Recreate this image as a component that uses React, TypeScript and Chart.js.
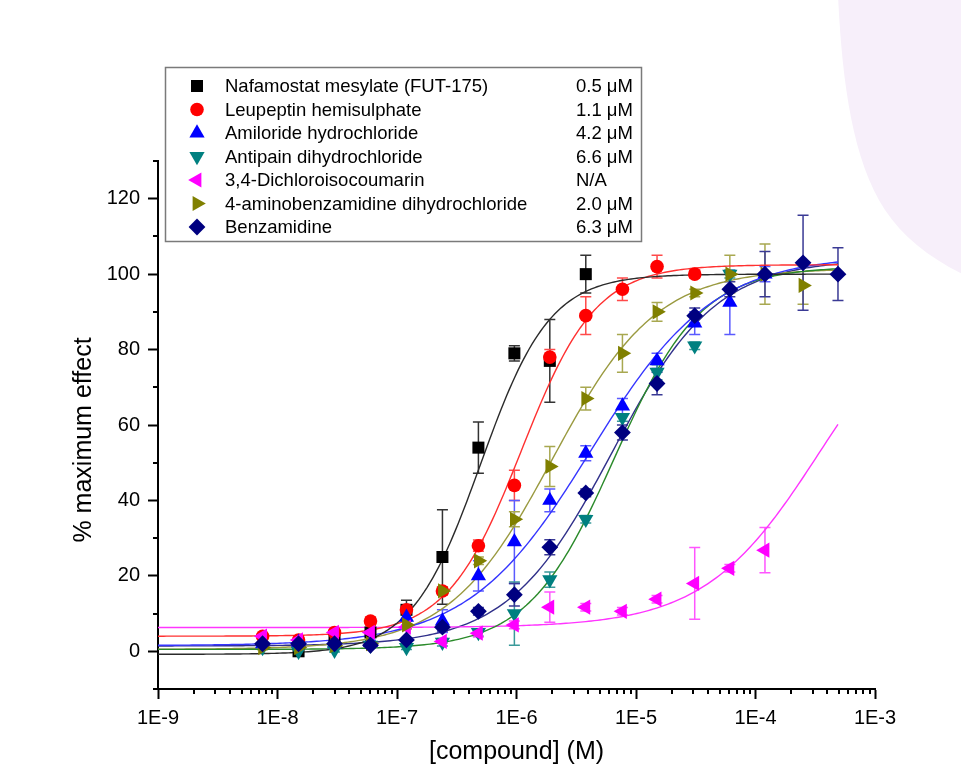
import React, { useEffect, useRef } from "react";
import { Chart, registerables } from "chart.js";

Chart.register(...registerables);

const FONT = '"Liberation Sans", Arial, Helvetica, sans-serif';

// concentrations (M)
const concentrations = [
  7.5e-9, 1.5e-8, 3e-8, 6e-8, 1.2e-7, 2.4e-7, 4.8e-7, 9.6e-7, 1.9e-6, 3.8e-6,
  7.7e-6, 1.5e-5, 3.1e-5, 6.1e-5, 1.2e-4, 2.5e-4, 4.9e-4,
];

const seriesNames = [
  "Nafamostat mesylate (FUT-175)",
  "Leupeptin hemisulphate",
  "Amiloride hydrochloride",
  "Antipain dihydrochloride",
  "3,4-Dichloroisocoumarin",
  "4-aminobenzamidine dihydrochloride",
  "Benzamidine",
];
const ec50Labels = ["0.5 μM", "1.1 μM", "4.2 μM", "6.6 μM", "N/A", "2.0 μM", "6.3 μM"];

// % maximum effect (mean) and error (±)
const nafamostat = [null, 0, 3, 5, 11, 25, 54, 79, 77, 100, null, null, null, null, null, null, null];
const nafamostatErr = [0, 0.5, 0.5, 1, 2.5, 12.5, 6.8, 2, 11, 5, 0, 0, 0, 0, 0, 0, 0];

const leupeptin = [4, 3, 5, 8, 11, 16, 28, 44, 78, 89, 96, 102, 100, null, null, null, null];
const leupeptinErr = [0.5, 0.5, 0.5, 1, 1, 1, 1.5, 4, 2, 5, 3, 3, 1, 0, 0, 0, 0];

const amiloride = [2, 2.4, 2, 2.4, 9, 8, 20, 29, 40, 52.5, 65, 77, 87, 92.5, 100, null, null];
const amilorideErr = [0.5, 0.5, 0.5, 0.5, 2, 3, 4, 11, 3, 2, 2, 2, 3, 8.5, 2, 0, 0];

const antipain = [1, 0, 0.3, 1.6, 1, 2.4, 5, 10, 19, 35, 62, 74, 81, 100, null, null, null];
const antipainErr = [0.5, 0.5, 0.5, 0.5, 0.5, 1, 1, 8.4, 2, 1, 1, 2, 1, 1, 0, 0, 0];

const dichloroisocoumarin = [4, 3, 5, 5, 6.4, 2.6, 4.8, 7, 11.7, 11.7, 10.6, 13.8, 18, 22, 26.8, null, null];
const dichloroisocoumarinErr = [0.5, 0.5, 0.5, 0.5, 0.5, 0.5, 1, 1, 4, 1, 1, 1, 9.5, 1, 6, 0, 0];

const aminobenzamidine = [1, 1, 1.5, 2, 7, 16, 24, 35, 49, 67, 79, 90, 95, 100, 100, 97, null];
const aminobenzamidineErr = [0.5, 0.5, 0.5, 0.5, 1, 1, 1, 2, 5.3, 3, 5, 2.5, 1, 5, 8, 5, 0];

const benzamidine = [2, 2, 2, 1.6, 3, 6.4, 10.6, 15, 27.6, 42, 58, 71, 89, 96, 100, 103, 100];
const benzamidineErr = [0.5, 0.5, 0.5, 0.5, 0.5, 1, 1, 3, 2, 1, 2, 3, 2, 2, 6, 12.6, 7];

const seriesValues = [nafamostat, leupeptin, amiloride, antipain, dichloroisocoumarin, aminobenzamidine, benzamidine];
const seriesErrors = [nafamostatErr, leupeptinErr, amilorideErr, antipainErr, dichloroisocoumarinErr, aminobenzamidineErr, benzamidineErr];

// four-parameter logistic fit parameters
const fitBottoms = [-0.8, 4, 1.5, 0.5, 6.3, 0.5, 1.4];
const fitTops = [100, 102.5, 105, 102, 100, 101.5, 104];
const fitEc50s = [0.5e-6, 1.1e-6, 4.2e-6, 6.6e-6, 3.5e-4, 2.0e-6, 6.3e-6];
const fitHills = [1.5, 1.4, 0.85, 1.2, 0.9, 1.0, 1.0];
const fitRange = [1e-9, 4.9e-4];

const markerColors = ["#000000", "#ff0000", "#0000ff", "#008080", "#ff00ff", "#808000", "#000080"];
const curveColors = ["#2b2b2b", "#ff3030", "#3535ff", "#2a8a2a", "#ff35ff", "#9a9a40", "#30308a"];
const errorColors = ["#333333", "#ff4a4a", "#5a5aff", "#3a9a9a", "#ff55ff", "#a8a850", "#3a3a95"];
const pointStyles = ["rect", "circle", "triangle", "triangle", "triangle", "triangle", "rectRot"];
const pointRotations = [0, 0, 0, 180, -90, 90, 0];
const pointRadii = [8.5, 6.8, 8.8, 8.8, 8.8, 8.8, 8.4];

const yTickValues = [0, 20, 40, 60, 80, 100, 120];
const yMinorTickValues = [-10, 10, 30, 50, 70, 90, 110, 130];
const xTickValues = [1e-9, 1e-8, 1e-7, 1e-6, 1e-5, 1e-4, 1e-3];
const xTickLabels = ["1E-9", "1E-8", "1E-7", "1E-6", "1E-5", "1E-4", "1E-3"];
const xMinorMultipliers = [2, 3, 4, 5, 6, 7, 8, 9];

const xTitle = "[compound] (M)";
const yTitle = "% maximum effect";

function logistic(i: number, x: number) {
  return fitBottoms[i] + (fitTops[i] - fitBottoms[i]) / (1 + Math.pow(fitEc50s[i] / x, fitHills[i]));
}

function curvePoints(i: number) {
  const pts: { x: number; y: number }[] = [];
  const a = Math.log10(fitRange[0]);
  const b = Math.log10(fitRange[1]);
  const n = 240;
  for (let k = 0; k <= n; k++) {
    const x = Math.pow(10, a + ((b - a) * k) / n);
    pts.push({ x, y: logistic(i, x) });
  }
  return pts;
}

function drawMarker(ctx: CanvasRenderingContext2D, style: string, rot: number, r: number, x: number, y: number, color: string) {
  ctx.save();
  ctx.translate(x, y);
  ctx.rotate((rot * Math.PI) / 180);
  ctx.fillStyle = color;
  ctx.beginPath();
  if (style === "rect") {
    const s = Math.SQRT1_2 * r;
    ctx.rect(-s, -s, 2 * s, 2 * s);
  } else if (style === "circle") {
    ctx.arc(0, 0, r, 0, Math.PI * 2);
  } else if (style === "triangle") {
    for (let k = 0; k < 3; k++) {
      const a = (k * 2 * Math.PI) / 3;
      const px = Math.sin(a) * r;
      const py = -Math.cos(a) * r;
      if (k === 0) ctx.moveTo(px, py);
      else ctx.lineTo(px, py);
    }
    ctx.closePath();
  } else if (style === "rectRot") {
    ctx.moveTo(0, -r);
    ctx.lineTo(r, 0);
    ctx.lineTo(0, r);
    ctx.lineTo(-r, 0);
    ctx.closePath();
  }
  ctx.fill();
  ctx.restore();
}

const backgroundPlugin = {
  id: "bgShape",
  beforeDraw(chart: any) {
    const ctx = chart.ctx;
    ctx.save();
    ctx.fillStyle = "#f7effa";
    ctx.beginPath();
    ctx.moveTo(838, -5);
    ctx.bezierCurveTo(842, 80, 852, 160, 885, 210);
    ctx.bezierCurveTo(905, 240, 935, 262, 975, 280);
    ctx.lineTo(975, -5);
    ctx.closePath();
    ctx.fill();
    ctx.restore();
  },
};

const errorBarPlugin = {
  id: "errorBars",
  beforeDatasetsDraw(chart: any) {
    const ctx = chart.ctx;
    const xs = chart.scales.x;
    const ys = chart.scales.y;
    ctx.save();
    ctx.lineWidth = 1.5;
    for (let s = 0; s < seriesValues.length; s++) {
      ctx.strokeStyle = errorColors[s];
      const vals = seriesValues[s];
      const errs = seriesErrors[s];
      for (let k = 0; k < concentrations.length; k++) {
        const v = vals[k];
        if (v === null || v === undefined) continue;
        const e = errs[k];
        if (!e) continue;
        const px = xs.getPixelForValue(concentrations[k]);
        const top = ys.getPixelForValue(v + e);
        const bot = ys.getPixelForValue(v - e);
        ctx.beginPath();
        ctx.moveTo(px, top);
        ctx.lineTo(px, bot);
        ctx.moveTo(px - 5.5, top);
        ctx.lineTo(px + 5.5, top);
        ctx.moveTo(px - 5.5, bot);
        ctx.lineTo(px + 5.5, bot);
        ctx.stroke();
      }
    }
    ctx.restore();
  },
};

const decorPlugin = {
  id: "decor",
  afterDraw(chart: any) {
    const ctx = chart.ctx;
    const xs = chart.scales.x;
    const ys = chart.scales.y;
    const area = chart.chartArea;
    ctx.save();
    // minor ticks
    ctx.strokeStyle = "#000";
    ctx.lineWidth = 2;
    ctx.beginPath();
    for (const v of yMinorTickValues) {
      const py = Math.round(ys.getPixelForValue(v));
      ctx.moveTo(area.left, py);
      ctx.lineTo(area.left - 5, py);
    }
    for (let d = 0; d < xTickValues.length - 1; d++) {
      for (const m of xMinorMultipliers) {
        const px = Math.round(xs.getPixelForValue(xTickValues[d] * m));
        ctx.moveTo(px, area.bottom);
        ctx.lineTo(px, area.bottom + 5);
      }
    }
    ctx.stroke();

    // axis titles
    ctx.fillStyle = "#000";
    ctx.font = `25px ${FONT}`;
    ctx.textAlign = "center";
    ctx.textBaseline = "middle";
    ctx.fillText(xTitle, (area.left + area.right) / 2, 752);
    ctx.save();
    ctx.translate(84, 440);
    ctx.rotate(-Math.PI / 2);
    ctx.fillText(yTitle, 0, 0);
    ctx.restore();

    // legend box
    const bx = 165.5, by = 67.5, bw = 476, bh = 174;
    ctx.fillStyle = "#fff";
    ctx.fillRect(bx, by, bw, bh);
    ctx.strokeStyle = "#7a7a7a";
    ctx.lineWidth = 1.5;
    ctx.strokeRect(bx, by, bw, bh);
    ctx.font = `18.5px ${FONT}`;
    ctx.textAlign = "left";
    ctx.textBaseline = "middle";
    for (let i = 0; i < seriesNames.length; i++) {
      const ry = 86 + i * 23.5;
      drawMarker(ctx, pointStyles[i], pointRotations[i], pointRadii[i], 197, ry, markerColors[i]);
      ctx.fillStyle = "#000";
      ctx.fillText(seriesNames[i], 225, ry + 1);
      ctx.fillText(ec50Labels[i], 576, ry + 1);
    }
    ctx.restore();
  },
};

export default function App() {
  const canvasRef = useRef<HTMLCanvasElement | null>(null);

  useEffect(() => {
    if (!canvasRef.current) return;
    const datasets: any[] = [];
    for (let i = 0; i < seriesNames.length; i++) {
      datasets.push({
        type: "line",
        label: seriesNames[i] + " fit",
        data: curvePoints(i),
        borderColor: curveColors[i],
        borderWidth: 1.4,
        pointRadius: 0,
        showLine: true,
        fill: false,
        tension: 0,
        order: 20 + i,
      });
    }
    for (let i = 0; i < seriesNames.length; i++) {
      const pts: { x: number; y: number }[] = [];
      seriesValues[i].forEach((v, k) => {
        if (v !== null && v !== undefined) pts.push({ x: concentrations[k], y: v as number });
      });
      datasets.push({
        type: "scatter",
        label: seriesNames[i],
        data: pts,
        showLine: false,
        pointStyle: pointStyles[i],
        pointRotation: pointRotations[i],
        pointRadius: pointRadii[i],
        pointHoverRadius: pointRadii[i],
        pointBackgroundColor: markerColors[i],
        pointBorderColor: markerColors[i],
        pointBorderWidth: 0,
        order: 10 - i,
      });
    }

    const chart = new Chart(canvasRef.current, {
      type: "scatter",
      data: { datasets },
      plugins: [backgroundPlugin, errorBarPlugin, decorPlugin],
      options: {
        animation: false,
        responsive: false,
        maintainAspectRatio: false,
        events: [],
        layout: { padding: { left: 0, right: 86, top: 161, bottom: 0 } },
        plugins: { legend: { display: false }, tooltip: { enabled: false }, title: { display: false } },
        scales: {
          x: {
            type: "logarithmic",
            min: 1e-9,
            max: 1e-3,
            position: "bottom",
            afterFit(scale: any) {
              scale.height = 85;
            },
            afterBuildTicks(scale: any) {
              scale.ticks = xTickValues.map((v) => ({ value: v }));
            },
            ticks: {
              autoSkip: false,
              maxRotation: 0,
              padding: 7,
              color: "#000",
              font: { family: FONT, size: 20 },
              callback: (v: any) => {
                const idx = xTickValues.findIndex((t) => Math.abs(Math.log10(t) - Math.log10(v)) < 1e-6);
                return idx >= 0 ? xTickLabels[idx] : "";
              },
            },
            grid: {
              drawOnChartArea: false,
              drawTicks: true,
              tickLength: 10,
              tickWidth: 2,
              tickColor: "#000",
            },
            border: { display: true, color: "#000", width: 2 },
          },
          y: {
            type: "linear",
            min: -10,
            max: 130,
            position: "left",
            afterFit(scale: any) {
              scale.width = 158;
            },
            afterBuildTicks(scale: any) {
              scale.ticks = yTickValues.map((v) => ({ value: v }));
            },
            ticks: {
              padding: 8,
              color: "#000",
              font: { family: FONT, size: 20 },
              callback: (v: any) => String(v),
            },
            grid: {
              drawOnChartArea: false,
              drawTicks: true,
              tickLength: 10,
              tickWidth: 2,
              tickColor: "#000",
            },
            border: { display: true, color: "#000", width: 2 },
          },
        },
      } as any,
    });
    return () => chart.destroy();
  }, []);

  return (
    <div style={{ position: "absolute", left: 0, top: 0, width: 961, height: 774, background: "#fff" }}>
      <canvas ref={canvasRef} width={961} height={774} style={{ display: "block", width: 961, height: 774 }} />
    </div>
  );
}
